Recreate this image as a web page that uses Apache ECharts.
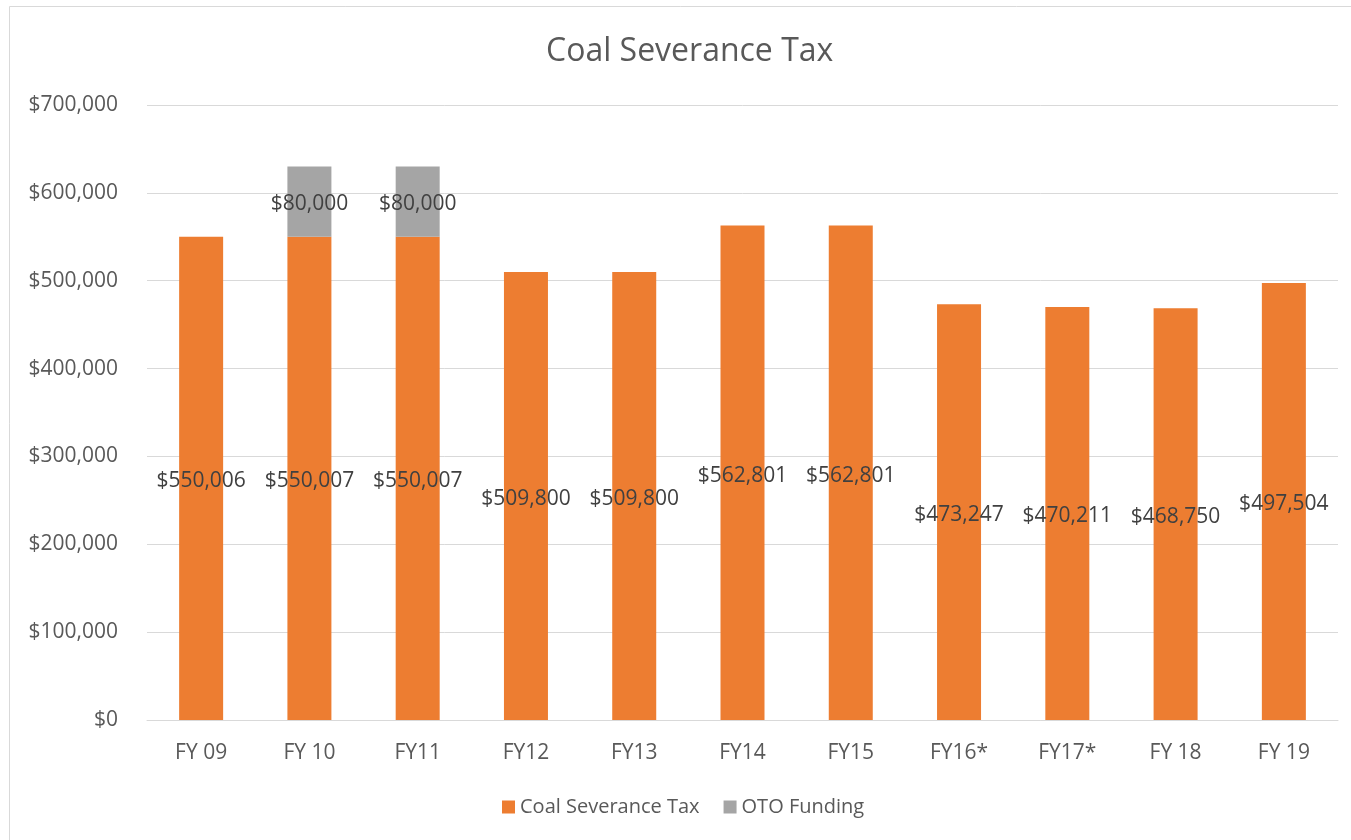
<!DOCTYPE html>
<html>
<head>
<meta charset="utf-8">
<script src="https://cdn.jsdelivr.net/npm/echarts@6/dist/echarts.min.js"></script>
<style>html,body{margin:0;padding:0;background:#fff;}#c{width:1351px;height:840px;}</style>
</head>
<body>
<div id="c"></div>
<script>
const categories = ['FY 09','FY 10','FY11','FY12','FY13','FY14','FY15','FY16*','FY17*','FY 18','FY 19'];
const coalTax = [550006,550007,550007,509800,509800,562801,562801,473247,470211,468750,497504];
const otoFunding = ['-',80000,80000,'-','-','-','-','-','-','-','-'];
const yTicks = {min:0, max:700000, interval:100000};

const FONT = '"Open Sans", "Liberation Sans", sans-serif';
const fmt = v => '$' + Number(v).toLocaleString('en-US');
const chart = echarts.init(document.getElementById('c'));
chart.setOption({
  animation:false,
  backgroundColor:'#fff',
  graphic:[{type:'rect',shape:{x:9.5,y:6.5,width:1360,height:840},style:{fill:'none',stroke:'#d9d9d9',lineWidth:1}}],
  title:{text:'Coal Severance Tax',left:541,top:31,textStyle:{fontFamily:FONT,fontSize:32,fontWeight:'normal',color:'#595959'}},
  grid:{left:147,right:13,top:105,bottom:120,containLabel:false},
  legend:{bottom:18,left:497,itemWidth:13,itemHeight:13,itemGap:24,icon:'rect',
    textStyle:{fontFamily:FONT,fontSize:20,color:'#595959'},data:['Coal Severance Tax','OTO Funding']},
  xAxis:{type:'category',data:categories,axisTick:{show:false},
    axisLine:{lineStyle:{color:'#d9d9d9',width:1}},
    axisLabel:{fontFamily:FONT,fontSize:21,color:'#595959',margin:23}},
  yAxis:{type:'value',min:yTicks.min,max:yTicks.max,interval:yTicks.interval,
    axisLine:{show:false},axisTick:{show:false},
    splitLine:{lineStyle:{color:'#d9d9d9',width:1}},
    axisLabel:{fontFamily:FONT,fontSize:21,color:'#595959',margin:29,formatter:fmt}},
  series:[
    {name:'Coal Severance Tax',type:'bar',stack:'a',data:coalTax,barWidth:44,
     itemStyle:{color:'#ED7D31'},
     label:{show:true,position:'inside',offset:[0,3],formatter:p=>fmt(p.value),fontFamily:FONT,fontSize:21,color:'#404040'}},
    {name:'OTO Funding',type:'bar',stack:'a',data:otoFunding,barWidth:44,
     itemStyle:{color:'#A5A5A5'},
     label:{show:true,position:'inside',offset:[0,2],formatter:p=>fmt(p.value),fontFamily:FONT,fontSize:21,color:'#404040'}}
  ]
});
</script>
</body>
</html>
